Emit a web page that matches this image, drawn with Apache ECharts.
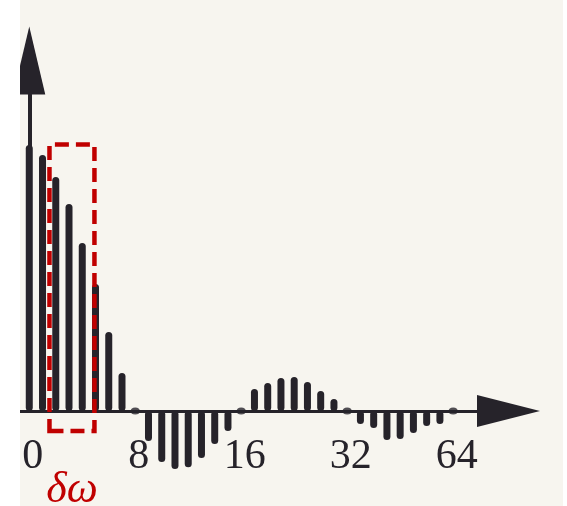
<!DOCTYPE html>
<html>
<head>
<meta charset="utf-8">
<script src="https://cdn.jsdelivr.net/npm/echarts@6/dist/echarts.min.js"></script>
<style>
  html, body { margin: 0; padding: 0; background: #ffffff; }
  #chart { position: absolute; left: 20px; top: 0; width: 543px; height: 506px; background: #f7f5ef; }
</style>
</head>
<body>
<div id="chart"></div>
<script>
// ---- data ----
const sampleIndex = [0,1,2,3,4,5,6,7,8,9,10,11,12,13,14,15,16,17,18,19,20,21,22,23,24,25,26,27,28,29,30,31,32];
const amplitude = [1.00, 0.962, 0.880, 0.778, 0.632, 0.477, 0.297, 0.143, 0,
                   -0.113, -0.192, -0.218, -0.211, -0.177, -0.124, -0.075, 0,
                   0.083, 0.105, 0.124, 0.128, 0.109, 0.075, 0.045, 0,
                   -0.049, -0.064, -0.109, -0.105, -0.083, -0.056, -0.049, 0];
const tickPositions = [0, 8, 16, 24, 32];
const tickLabels = ['0', '8', '16', '32', '64'];
const boxLabel = 'δω';
const boxX = [1.525, 4.92];
const boxY = [1.002, -0.075];

// ---- chart ----
const INK = '#26232a';
const RED = '#c00000';
const X_MIN = -0.7, X_MAX = 33.8;
const Y_MIN = -0.3, Y_MAX = 1.19;
const UNIT = 266; // px per amplitude unit
const BASE_Y = 411;
const gridTop = BASE_Y - Y_MAX * UNIT;

const barData = sampleIndex.map((x, k) => [x, amplitude[k]]);
const zeroData = sampleIndex.filter((x, k) => amplitude[k] === 0).map(x => [x, 0]);

const chart = echarts.init(document.getElementById('chart'), null, { renderer: 'canvas' });
chart.setOption({
  animation: false,
  backgroundColor: 'transparent',
  grid: [
    { left: 0, right: 86, top: gridTop, height: (Y_MAX - Y_MIN) * UNIT, containLabel: false, outerBoundsMode: 'none' },
    { left: 0, right: 86, top: gridTop, height: Y_MAX * UNIT, containLabel: false, outerBoundsMode: 'none' }
  ],
  xAxis: [
    {
      type: 'value', gridIndex: 0, min: X_MIN, max: X_MAX,
      axisLine: { show: true, onZero: true, symbol: ['none', 'triangle'], symbolSize: [32, 63], symbolOffset: [0, 31.5],
                  lineStyle: { color: INK, width: 3 } },
      axisTick: { show: false },
      splitLine: { show: false },
      axisLabel: { show: false }
    },
    {
      type: 'value', gridIndex: 1, min: X_MIN, max: X_MAX, position: 'bottom',
      axisLine: { show: false, onZero: false },
      axisTick: { show: false },
      splitLine: { show: false },
      axisLabel: {
        show: true, customValues: tickPositions, margin: 25, padding: [0, 0, 0, 7],
        formatter: v => tickLabels[tickPositions.indexOf(v)],
        fontFamily: 'Liberation Serif', fontSize: 42, color: INK
      }
    }
  ],
  yAxis: [
    { type: 'value', gridIndex: 0, min: Y_MIN, max: Y_MAX, show: false },
    {
      type: 'value', gridIndex: 1, min: 0, max: Y_MAX,
      axisLine: { show: true, onZero: true, symbol: ['none', 'triangle'], symbolSize: [32, 68], symbolOffset: [0, 34],
                  lineStyle: { color: INK, width: 4 } },
      axisTick: { show: false }, axisLabel: { show: false }, splitLine: { show: false }
    }
  ],
  series: [
    {
      type: 'bar', xAxisIndex: 0, yAxisIndex: 0,
      data: barData, barWidth: 7,
      itemStyle: { color: INK, borderRadius: 3.5 },
      markArea: {
        silent: true, z: 10,
        itemStyle: { color: 'rgba(0,0,0,0)', borderColor: RED, borderWidth: 4.5, borderType: [14, 7] },
        label: { show: true, position: 'bottom', distance: 35, formatter: boxLabel,
                 fontFamily: 'Liberation Serif', fontStyle: 'italic', fontSize: 44, color: RED },
        data: [[{ coord: [boxX[0], boxY[0]] }, { coord: [boxX[1], boxY[1]] }]]
      }
    },
    {
      type: 'scatter', xAxisIndex: 0, yAxisIndex: 0,
      data: zeroData, symbolSize: [9, 7],
      itemStyle: { color: INK }
    }
  ]
});
</script>
</body>
</html>
